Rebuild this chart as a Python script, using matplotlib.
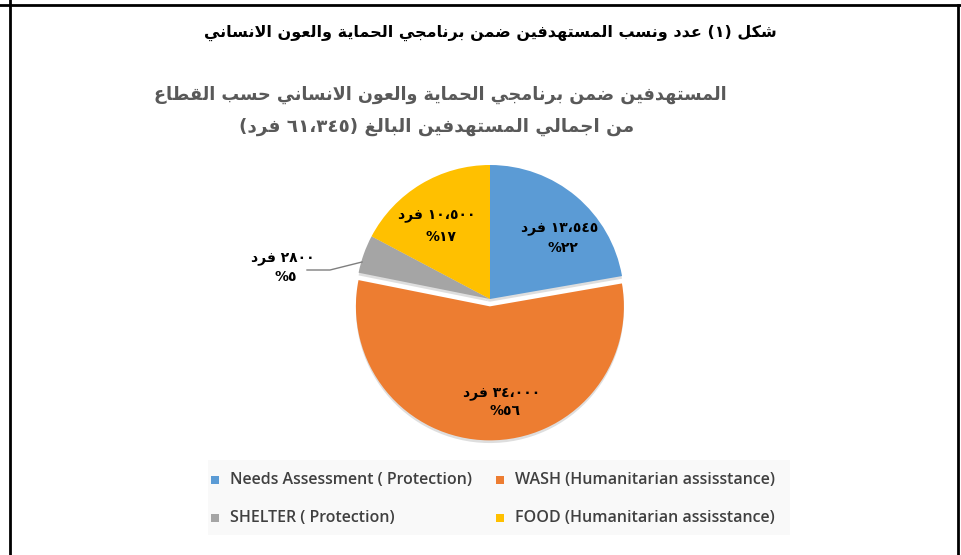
import matplotlib
matplotlib.use("Agg")
import matplotlib.pyplot as plt
from matplotlib.patches import Rectangle
from matplotlib.lines import Line2D

# ---------------- data ----------------
categories = ["Needs Assessment ( Protection)", "WASH (Humanitarian assisstance)",
              "SHELTER ( Protection)", "FOOD (Humanitarian assisstance)"]
values = [13545, 34000, 2800, 10500]
count_labels = ["١٣،٥٤٥ فرد", "٣٤،٠٠٠ فرد", "٢٨٠٠ فرد", "١٠،٥٠٠ فرد"]
pct_labels = ["٢٢%", "٥٦%", "٥%", "١٧%"]
colors = ["#5B9BD5", "#ED7D31", "#A5A5A5", "#FFC000"]
fig_title = "شكل (١) عدد ونسب المستهدفين ضمن برنامجي الحماية والعون الانساني"
chart_title_1 = "المستهدفين ضمن برنامجي الحماية والعون الانساني حسب القطاع"
chart_title_2 = "من اجمالي المستهدفين البالغ (٦١،٣٤٥ فرد)"

# ---------------- minimal Arabic shaping + bidi ----------------
FORMS = {  # iso, fin, ini, med
    'ا': ('\uFE8D', '\uFE8E', None, None),
    'ب': ('\uFE8F', '\uFE90', '\uFE91', '\uFE92'),
    'ة': ('\uFE93', '\uFE94', None, None),
    'ت': ('\uFE95', '\uFE96', '\uFE97', '\uFE98'),
    'ج': ('\uFE9D', '\uFE9E', '\uFE9F', '\uFEA0'),
    'ح': ('\uFEA1', '\uFEA2', '\uFEA3', '\uFEA4'),
    'د': ('\uFEA9', '\uFEAA', None, None),
    'ر': ('\uFEAD', '\uFEAE', None, None),
    'س': ('\uFEB1', '\uFEB2', '\uFEB3', '\uFEB4'),
    'ش': ('\uFEB5', '\uFEB6', '\uFEB7', '\uFEB8'),
    'ض': ('\uFEBD', '\uFEBE', '\uFEBF', '\uFEC0'),
    'ط': ('\uFEC1', '\uFEC2', '\uFEC3', '\uFEC4'),
    'ع': ('\uFEC9', '\uFECA', '\uFECB', '\uFECC'),
    'غ': ('\uFECD', '\uFECE', '\uFECF', '\uFED0'),
    'ف': ('\uFED1', '\uFED2', '\uFED3', '\uFED4'),
    'ق': ('\uFED5', '\uFED6', '\uFED7', '\uFED8'),
    'ك': ('\uFED9', '\uFEDA', '\uFEDB', '\uFEDC'),
    'ل': ('\uFEDD', '\uFEDE', '\uFEDF', '\uFEE0'),
    'م': ('\uFEE1', '\uFEE2', '\uFEE3', '\uFEE4'),
    'ن': ('\uFEE5', '\uFEE6', '\uFEE7', '\uFEE8'),
    'ه': ('\uFEE9', '\uFEEA', '\uFEEB', '\uFEEC'),
    'و': ('\uFEED', '\uFEEE', None, None),
    'ي': ('\uFEF1', '\uFEF2', '\uFEF3', '\uFEF4'),
    'لا': ('\uFEFB', '\uFEFC', None, None),
}


def shape(text):
    units = []
    i = 0
    while i < len(text):
        if text[i] == 'ل' and i + 1 < len(text) and text[i + 1] == 'ا':
            units.append('لا')
            i += 2
        else:
            units.append(text[i])
            i += 1
    out = []
    for k, u in enumerate(units):
        if u not in FORMS:
            out.append(u)
            continue
        prev = units[k - 1] if k > 0 else None
        nxt = units[k + 1] if k + 1 < len(units) else None
        join_prev = prev in FORMS and FORMS[prev][2] is not None
        join_next = nxt in FORMS and FORMS[u][2] is not None
        iso, fin, ini, med = FORMS[u]
        if join_prev and join_next:
            out.append(med)
        elif join_prev:
            out.append(fin)
        elif join_next:
            out.append(ini)
        else:
            out.append(iso)
    return ''.join(out)


DIGITS = set('٠١٢٣٤٥٦٧٨٩0123456789')
MIRROR = {'(': ')', ')': '('}


def ar(text):
    s = shape(text)
    tokens = []
    i = 0
    while i < len(s):
        c = s[i]
        if c in DIGITS:
            j = i
            while j < len(s) and (s[j] in DIGITS or (s[j] in '،,.' and j + 1 < len(s) and s[j + 1] in DIGITS)):
                j += 1
            tokens.append(s[i:j])
            i = j
        else:
            tokens.append(MIRROR.get(c, c))
            i += 1
    return ''.join(reversed(tokens))


# ---------------- figure ----------------
W, H = 962, 555
fig = plt.figure(figsize=(W / 100, H / 100), dpi=100)
fig.patch.set_facecolor("white")

for (x0, y0, x1, y1) in [(10, 0, 10, 555), (0, 5, 962, 5), (958, 5, 958, 555)]:
    fig.add_artist(Line2D([x0 / W, x1 / W], [1 - y0 / H, 1 - y1 / H],
                          color="black", lw=2.0, transform=fig.transFigure))

AR_FONT = ["DejaVu Sans"]

fig.text(490 / W, 1 - 33 / H, ar(fig_title), ha="center", va="center",
         fontsize=11.5, fontweight="bold", family=AR_FONT, color="black")

fig.text(440 / W, 1 - 95 / H, ar(chart_title_1), ha="center", va="center",
         fontsize=12.7, fontweight="bold", family=AR_FONT, color="#595959")
fig.text(437 / W, 1 - 127 / H, ar(chart_title_2), ha="center", va="center",
         fontsize=13.2, fontweight="bold", family=AR_FONT, color="#595959")

# pie axes: radius 1 -> 134 px, centred at (490, 299)
R = 134
cx, cy = 490, 299
half = 1.5 * R
ax = fig.add_axes([(cx - half) / W, (H - cy - half) / H, 2 * half / W, 2 * half / H])
ax.axis("off")

explode = [0, 0.055, 0, 0]
ax.pie(values, radius=1.0, startangle=90, counterclock=False, explode=explode,
       colors=["#DEDEDE"] * 4, center=(0.0, -0.02),
       wedgeprops=dict(linewidth=0))
wedges, _ = ax.pie(values, radius=1.0, startangle=90, counterclock=False,
                   explode=explode, colors=colors,
                   wedgeprops=dict(linewidth=0))
ax.set_xlim(-1.5, 1.5)
ax.set_ylim(-1.5, 1.5)
ax.set_aspect("equal")

lab_kw = dict(ha="center", va="center", fontsize=10, fontweight="bold",
              family=AR_FONT, color="black")
label_px = [(560, 228, 563, 248), (502, 393, 505, 411), (283, 258, 286, 277), (437, 215, 441, 237)]
for i, (x1, y1, x2, y2) in enumerate(label_px):
    ax.text((x1 - cx) / R, (cy - y1) / R, ar(count_labels[i]), **lab_kw)
    ax.text((x2 - cx) / R, (cy - y2) / R, ar(pct_labels[i]), **lab_kw)

ax.plot([(307 - cx) / R, (330 - cx) / R, (362 - cx) / R],
        [(cy - 270) / R, (cy - 270) / R, (cy - 262) / R],
        color="#7F7F7F", lw=1.0)

fig.add_artist(Rectangle((208 / W, 1 - 535 / H), (790 - 208) / W, (535 - 460) / H,
                         transform=fig.transFigure, facecolor="#F9F9F9",
                         edgecolor="none", zorder=0))
leg_pos = [(215, 480), (500, 480), (215, 518), (500, 518)]
for i, (lx, ly) in enumerate(leg_pos):
    fig.add_artist(Rectangle(((lx - 4) / W, 1 - (ly + 4) / H), 8 / W, 8 / H,
                             transform=fig.transFigure, facecolor=colors[i],
                             edgecolor="none"))
    fig.text((lx + 15) / W, 1 - ly / H, categories[i], ha="left", va="center",
             fontsize=11.5, family="Open Sans", fontweight="semibold", color="#404040")

fig.savefig("out.png", dpi=100, facecolor="white")
